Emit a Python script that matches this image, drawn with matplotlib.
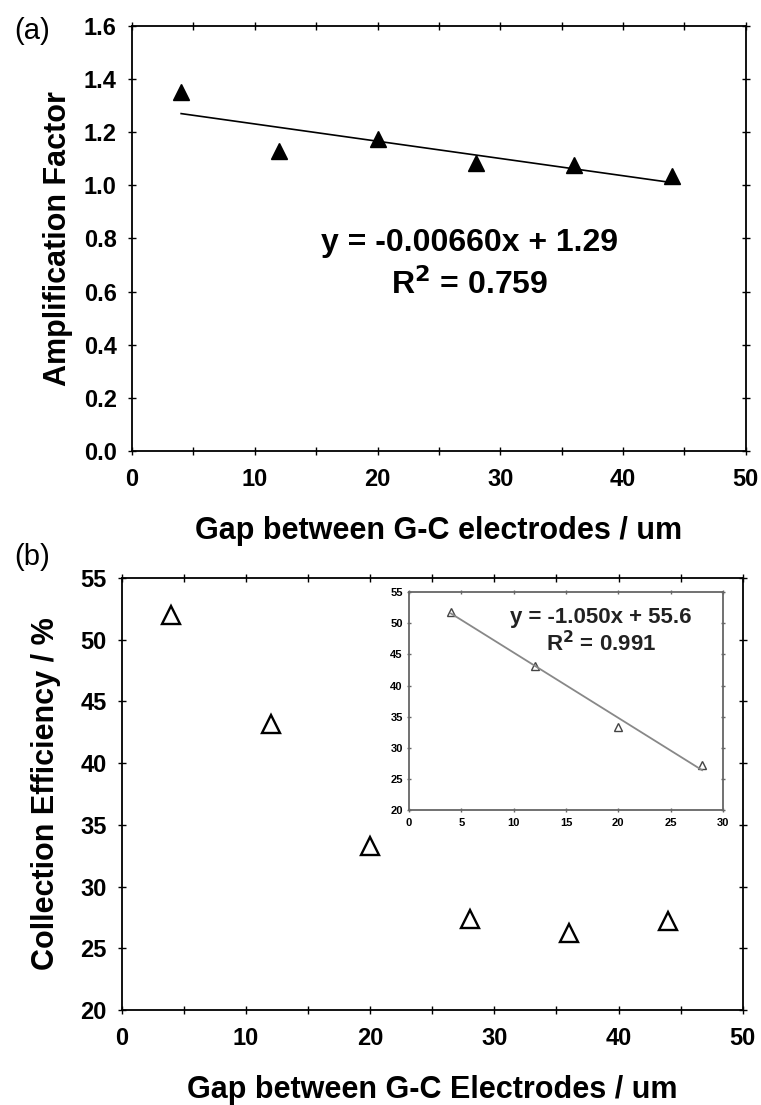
"""Amplification factor and collection efficiency vs. G-C electrode gap."""

import matplotlib

matplotlib.use("Agg")
import matplotlib.pyplot as plt
from matplotlib.ticker import MultipleLocator

plt.rcParams["font.family"] = ["Liberation Sans", "DejaVu Sans"]
plt.rcParams["font.weight"] = "bold"

# panel (a): amplification factor
gap_a = [4, 12, 20, 28, 36, 44]
amp = [1.35, 1.13, 1.175, 1.085, 1.075, 1.035]
amp_fit_x = [4, 44]
amp_fit_y = [1.27, 1.01]

# panel (b): collection efficiency
gap_b = [4, 12, 20, 28, 36, 44]
eff = [52.0, 43.2, 33.3, 27.4, 26.2, 27.2]

# inset: first four points with linear fit
gap_in = [4, 12, 20, 28]
eff_in = [51.8, 43.2, 33.3, 27.2]
eff_fit_x = [4, 28]
eff_fit_y = [51.6, 26.4]


def style_axes(ax, size=17, length=6, color="black", xpad=9, ypad=8):
    ax.tick_params(which="both", direction="inout", top=True, right=True,
                   labelsize=size, colors=color, labelcolor="black")
    ax.tick_params(which="both", length=length, width=1)
    ax.tick_params(axis="x", pad=xpad)
    ax.tick_params(axis="y", pad=ypad)
    for s in ax.spines.values():
        s.set_linewidth(1.3)
        s.set_color(color)


fig = plt.figure(figsize=(7.61, 11.05), dpi=100)

# ---- (a)
ax1 = fig.add_axes([0.1735, 0.592, 0.8065, 0.3845])
ax1.plot(gap_a, amp, "^", color="black", markersize=12)
ax1.plot(amp_fit_x, amp_fit_y, "-", color="black", lw=1.2)
ax1.set_xlim(0, 50)
ax1.set_ylim(0, 1.6)
ax1.xaxis.set_major_locator(MultipleLocator(10))
ax1.xaxis.set_minor_locator(MultipleLocator(5))
ax1.yaxis.set_major_locator(MultipleLocator(0.2))
ax1.yaxis.set_major_formatter(lambda v, p: f"{v:.1f}")
style_axes(ax1)
ax1.set_xlabel("Gap between G-C electrodes / um", fontsize=22, fontweight="bold", labelpad=18)
ax1.set_ylabel("Amplification Factor", fontsize=22, fontweight="bold", labelpad=8)
ax1.text(0.55, 0.49, "y = -0.00660x + 1.29", transform=ax1.transAxes,
         ha="center", va="center", fontsize=23, fontweight="bold")
ax1.text(0.55, 0.39, "R$^2$ = 0.759", transform=ax1.transAxes,
         ha="center", va="center", fontsize=23, fontweight="bold")
fig.text(0.042, 0.972, "(a)", fontsize=21, fontweight="normal", ha="center", va="center")

# ---- (b)
ax2 = fig.add_axes([0.160, 0.0860, 0.816, 0.3909])
ax2.plot(gap_b, eff, "^", markerfacecolor="white", markeredgecolor="black",
         markeredgewidth=1.7, markersize=13, color="black")
ax2.set_xlim(0, 50)
ax2.set_ylim(20, 55)
ax2.xaxis.set_major_locator(MultipleLocator(10))
ax2.xaxis.set_minor_locator(MultipleLocator(5))
ax2.yaxis.set_major_locator(MultipleLocator(5))
style_axes(ax2)
ax2.set_xlabel("Gap between G-C Electrodes / um", fontsize=22, fontweight="bold", labelpad=18)
ax2.set_ylabel("Collection Efficiency / %", fontsize=22, fontweight="bold", labelpad=14)
fig.text(0.042, 0.496, "(b)", fontsize=21, fontweight="normal", ha="center", va="center")

# ---- inset
ax3 = fig.add_axes([0.5375, 0.267, 0.4126, 0.197])
ax3.plot(gap_in, eff_in, "^", markerfacecolor="white", markeredgecolor="#444444",
         markeredgewidth=1.0, markersize=6)
ax3.plot(eff_fit_x, eff_fit_y, "-", color="#888888", lw=1.3)
ax3.set_xlim(0, 30)
ax3.set_ylim(20, 55)
ax3.xaxis.set_major_locator(MultipleLocator(5))
ax3.yaxis.set_major_locator(MultipleLocator(5))
style_axes(ax3, size=8, length=3, color="#666666", xpad=4, ypad=3)
ax3.text(0.61, 0.885, "y = -1.050x + 55.6", transform=ax3.transAxes,
         ha="center", va="center", fontsize=16, fontweight="bold", color="#222222")
ax3.text(0.61, 0.766, "R$^2$ = 0.991", transform=ax3.transAxes,
         ha="center", va="center", fontsize=16, fontweight="bold", color="#222222")

fig.savefig("out.png", dpi=100)
